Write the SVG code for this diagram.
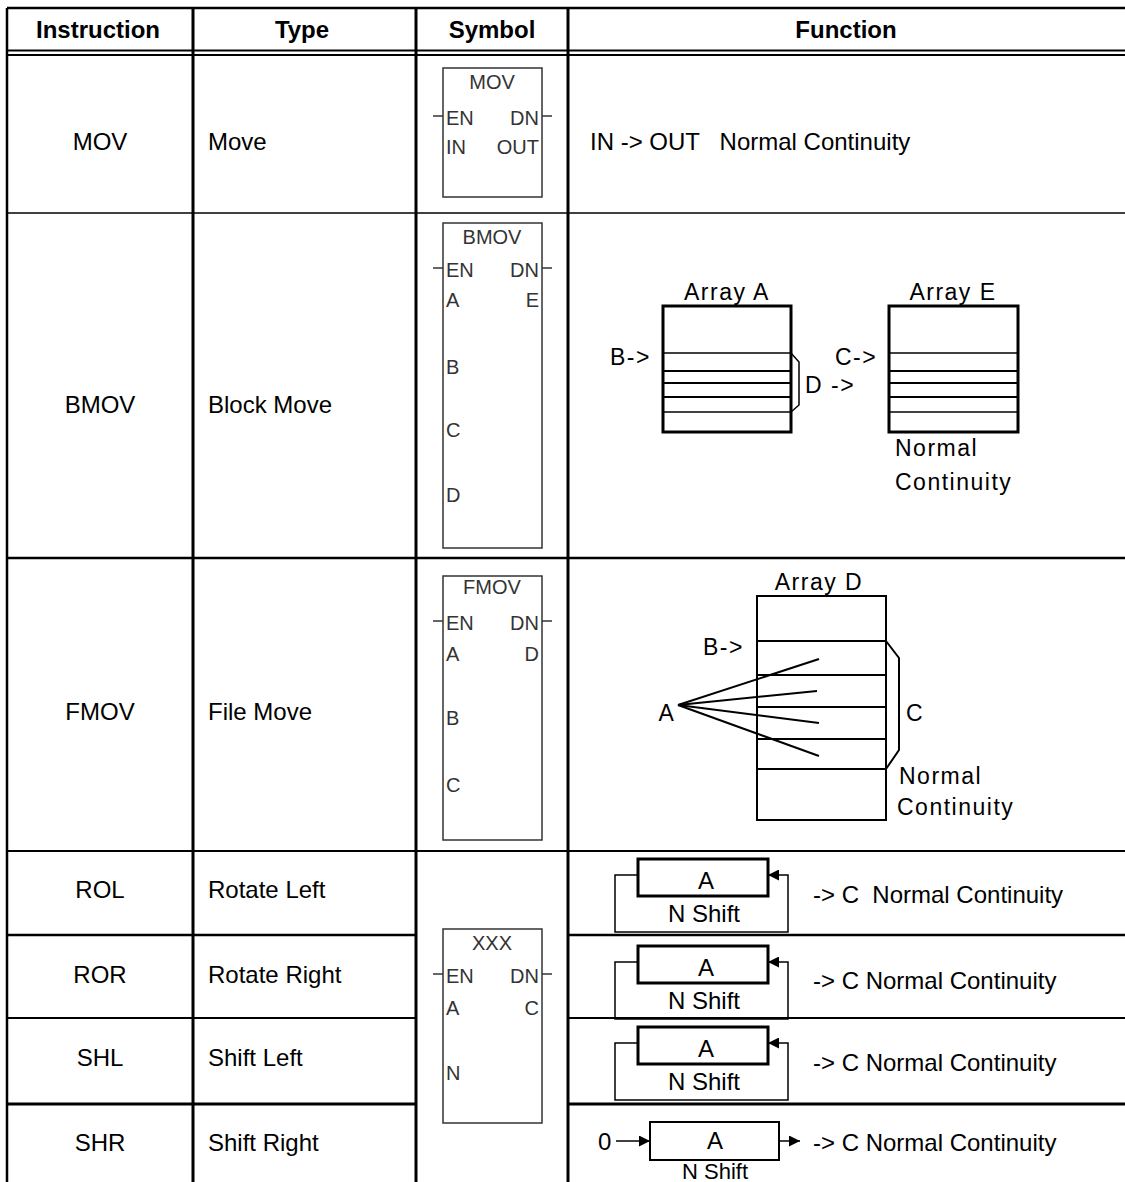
<svg xmlns="http://www.w3.org/2000/svg" width="1125" height="1182" viewBox="0 0 1125 1182">
<style>
.grid{stroke:#000;fill:none}
.hd{font-family:"Liberation Sans",Arial,sans-serif;font-weight:bold;font-size:24px;text-anchor:middle;fill:#000}
.tx{font-family:"Liberation Sans",Arial,sans-serif;font-size:24px;fill:#000;white-space:pre}
.c{text-anchor:middle}
.e{text-anchor:end}
.fn{font-family:"Liberation Sans",Arial,sans-serif;font-size:23px;letter-spacing:1.5px;fill:#000}
.sy{font-family:"Liberation Sans",Arial,sans-serif;font-size:20px;fill:#333}
.box{fill:#fff;stroke:#333;stroke-width:1.5}
.thin{stroke:#000;stroke-width:1.5;fill:none}
.mid{stroke:#000;stroke-width:2;fill:none}
.thick{stroke:#000;stroke-width:3;fill:none}
</style>
<defs>
<marker id="ah" viewBox="0 0 10 10" refX="10" refY="5" markerWidth="11" markerHeight="11" markerUnits="userSpaceOnUse" orient="auto">
<path d="M0,0 L10,5 L0,10 z" fill="#000"/>
</marker>
</defs>
<rect width="1125" height="1182" fill="#fff"/>

<g id="table-grid">
<line class="grid" stroke-width="2.5" x1="7" y1="8" x2="1125" y2="8"/>
<line class="grid" stroke-width="2" x1="7" y1="50.5" x2="1125" y2="50.5"/>
<line class="grid" stroke-width="2" x1="7" y1="55" x2="1125" y2="55"/>
<line class="grid" stroke-width="1.5" x1="7" y1="213" x2="1125" y2="213"/>
<line class="grid" stroke-width="2.5" x1="7" y1="558" x2="1125" y2="558"/>
<line class="grid" stroke-width="2" x1="7" y1="851" x2="1125" y2="851"/>
<line class="grid" stroke-width="2.5" x1="7" y1="935" x2="416" y2="935"/>
<line class="grid" stroke-width="2.5" x1="568" y1="935" x2="1125" y2="935"/>
<line class="grid" stroke-width="2" x1="7" y1="1018" x2="416" y2="1018"/>
<line class="grid" stroke-width="2" x1="568" y1="1018" x2="1125" y2="1018"/>
<line class="grid" stroke-width="3" x1="7" y1="1104" x2="416" y2="1104"/>
<line class="grid" stroke-width="3" x1="568" y1="1104" x2="1125" y2="1104"/>
<line class="grid" stroke-width="2.5" x1="7" y1="8" x2="7" y2="1182"/>
<line class="grid" stroke-width="3" x1="193" y1="8" x2="193" y2="1182"/>
<line class="grid" stroke-width="3" x1="416" y1="8" x2="416" y2="1182"/>
<line class="grid" stroke-width="3" x1="568" y1="8" x2="568" y2="1182"/>
</g>

<g id="header">
<text class="hd" x="98" y="38">Instruction</text>
<text class="hd" x="302" y="38">Type</text>
<text class="hd" x="492" y="38">Symbol</text>
<text class="hd" x="846" y="38">Function</text>
</g>

<g id="row-mov">
<text class="tx c" x="100" y="150">MOV</text>
<text class="tx" x="208" y="150">Move</text>
<g id="sym-mov">
<rect class="box" x="443" y="68" width="99" height="129"/>
<line class="box" x1="433" y1="116" x2="443" y2="116"/>
<line class="box" x1="542" y1="116" x2="552" y2="116"/>
<text class="sy c" x="492" y="89">MOV</text>
<text class="sy" x="446" y="125">EN</text>
<text class="sy e" x="539" y="125">DN</text>
<text class="sy" x="446" y="154">IN</text>
<text class="sy e" x="539" y="154">OUT</text>
</g>
<text class="tx" x="590" y="150" xml:space="preserve">IN -&gt; OUT   Normal Continuity</text>
</g>

<g id="row-bmov">
<text class="tx c" x="100" y="413">BMOV</text>
<text class="tx" x="208" y="413">Block Move</text>
<g id="sym-bmov">
<rect class="box" x="443" y="223" width="99" height="325"/>
<line class="box" x1="433" y1="268" x2="443" y2="268"/>
<line class="box" x1="542" y1="268" x2="552" y2="268"/>
<text class="sy c" x="492" y="244">BMOV</text>
<text class="sy" x="446" y="277">EN</text>
<text class="sy e" x="539" y="277">DN</text>
<text class="sy" x="446" y="307">A</text>
<text class="sy e" x="539" y="307">E</text>
<text class="sy" x="446" y="374">B</text>
<text class="sy" x="446" y="437">C</text>
<text class="sy" x="446" y="502">D</text>
</g>
<g id="fn-bmov">
<text class="fn c" x="727" y="300">Array A</text>
<rect class="thick" x="663" y="306" width="128" height="126"/>
<line class="thin" x1="663" y1="353" x2="791" y2="353"/>
<line class="mid" x1="663" y1="371" x2="791" y2="371"/>
<line class="mid" x1="663" y1="383" x2="791" y2="383"/>
<line class="mid" x1="663" y1="397" x2="791" y2="397"/>
<line class="thin" x1="663" y1="412" x2="791" y2="412"/>
<polyline class="thin" points="791,353 799,362 799,405 791,412"/>
<text class="fn" x="610" y="365">B-&gt;</text>
<text class="fn" x="805" y="393">D -&gt;</text>
<text class="fn" x="835" y="365">C-&gt;</text>
<text class="fn c" x="953" y="300">Array E</text>
<rect class="thick" x="889" y="306" width="129" height="126"/>
<line class="thin" x1="889" y1="353" x2="1018" y2="353"/>
<line class="mid" x1="889" y1="371" x2="1018" y2="371"/>
<line class="mid" x1="889" y1="383" x2="1018" y2="383"/>
<line class="mid" x1="889" y1="397" x2="1018" y2="397"/>
<line class="thin" x1="889" y1="412" x2="1018" y2="412"/>
<text class="fn" x="895" y="456">Normal</text>
<text class="fn" x="895" y="490">Continuity</text>
</g>
</g>

<g id="row-fmov">
<text class="tx c" x="100" y="720">FMOV</text>
<text class="tx" x="208" y="720">File Move</text>
<g id="sym-fmov">
<rect class="box" x="443" y="576" width="99" height="264"/>
<line class="box" x1="433" y1="621" x2="443" y2="621"/>
<line class="box" x1="542" y1="621" x2="552" y2="621"/>
<text class="sy c" x="492" y="594">FMOV</text>
<text class="sy" x="446" y="630">EN</text>
<text class="sy e" x="539" y="630">DN</text>
<text class="sy" x="446" y="661">A</text>
<text class="sy e" x="539" y="661">D</text>
<text class="sy" x="446" y="725">B</text>
<text class="sy" x="446" y="792">C</text>
</g>
<g id="fn-fmov">
<text class="fn c" x="819" y="590">Array D</text>
<rect class="mid" x="757" y="596" width="129" height="224"/>
<line class="mid" x1="757" y1="641" x2="886" y2="641"/>
<line class="mid" x1="757" y1="675" x2="886" y2="675"/>
<line class="mid" x1="757" y1="707" x2="886" y2="707"/>
<line class="mid" x1="757" y1="739" x2="886" y2="739"/>
<line class="mid" x1="757" y1="769" x2="886" y2="769"/>
<text class="fn" x="703" y="655">B-&gt;</text>
<text class="fn c" x="667" y="721">A</text>
<line class="mid" x1="678" y1="705" x2="819" y2="659"/>
<line class="mid" x1="678" y1="705" x2="817" y2="691"/>
<line class="mid" x1="678" y1="705" x2="819" y2="723"/>
<line class="mid" x1="678" y1="705" x2="819" y2="756"/>
<polyline class="mid" points="886,641 899,658 899,750 886,769"/>
<text class="fn c" x="915" y="721">C</text>
<text class="fn" x="899" y="784">Normal</text>
<text class="fn" x="897" y="815">Continuity</text>
</g>
</g>

<g id="sym-xxx">
<rect class="box" x="443" y="929" width="99" height="194"/>
<line class="box" x1="433" y1="974" x2="443" y2="974"/>
<line class="box" x1="542" y1="974" x2="552" y2="974"/>
<text class="sy c" x="492" y="950">XXX</text>
<text class="sy" x="446" y="983">EN</text>
<text class="sy e" x="539" y="983">DN</text>
<text class="sy" x="446" y="1015">A</text>
<text class="sy e" x="539" y="1015">C</text>
<text class="sy" x="446" y="1080">N</text>
</g>

<g id="connectors">
<path class="thin" d="M638,875 H615 V932 H788 V875 H768" marker-end="url(#ah)"/>
<path class="thin" d="M638,962 H615 V1019 H788 V962 H768" marker-end="url(#ah)"/>
<path class="thin" d="M638,1043 H615 V1100 H788 V1043 H768" marker-end="url(#ah)"/>
<line class="thin" x1="616" y1="1141" x2="650" y2="1141" marker-end="url(#ah)"/>
<line class="thin" x1="779" y1="1141" x2="800" y2="1141" marker-end="url(#ah)"/>
</g>

<g id="row-rol">
<text class="tx c" x="100" y="898">ROL</text>
<text class="tx" x="208" y="898">Rotate Left</text>
<rect class="thick" x="638" y="859" width="130" height="37" fill="#fff"/>
<text class="tx c" x="706" y="889">A</text>
<text class="tx c" x="704" y="922">N Shift</text>
<text class="tx" x="813" y="903" xml:space="preserve">-&gt; C  Normal Continuity</text>
</g>

<g id="row-ror">
<text class="tx c" x="100" y="983">ROR</text>
<text class="tx" x="208" y="983">Rotate Right</text>
<rect class="thick" x="638" y="946" width="130" height="37" fill="#fff"/>
<text class="tx c" x="706" y="976">A</text>
<text class="tx c" x="704" y="1009">N Shift</text>
<text class="tx" x="813" y="989">-&gt; C Normal Continuity</text>
</g>

<g id="row-shl">
<text class="tx c" x="100" y="1066">SHL</text>
<text class="tx" x="208" y="1066">Shift Left</text>
<rect class="thick" x="638" y="1027" width="130" height="37" fill="#fff"/>
<text class="tx c" x="706" y="1057">A</text>
<text class="tx c" x="704" y="1090">N Shift</text>
<text class="tx" x="813" y="1071">-&gt; C Normal Continuity</text>
</g>

<g id="row-shr">
<text class="tx c" x="100" y="1151">SHR</text>
<text class="tx" x="208" y="1151">Shift Right</text>
<text class="tx" x="598" y="1150">0</text>
<rect class="mid" x="650" y="1122" width="129" height="38"/>
<text class="tx c" x="715" y="1149">A</text>
<text class="tx c" x="715" y="1179" style="font-size:22px">N Shift</text>
<text class="tx" x="813" y="1151">-&gt; C Normal Continuity</text>
</g>
</svg>
